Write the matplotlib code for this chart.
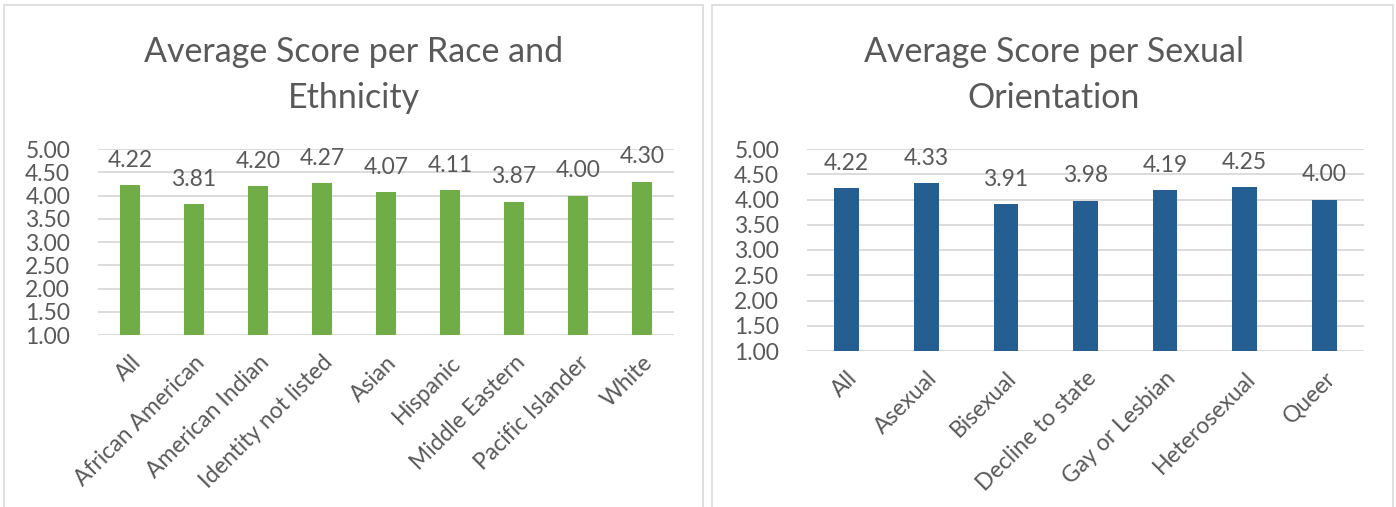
import matplotlib
matplotlib.use("Agg")
import matplotlib.pyplot as plt
from matplotlib.patches import Rectangle

plt.rcParams['font.family'] = ['Lato', 'DejaVu Sans']

race_cats = ["All", "African American", "American Indian", "Identity not listed",
             "Asian", "Hispanic", "Middle Eastern", "Pacific Islander", "White"]
race_vals = [4.22, 3.81, 4.20, 4.27, 4.07, 4.11, 3.87, 4.00, 4.30]

orient_cats = ["All", "Asexual", "Bisexual", "Decline to state",
               "Gay or Lesbian", "Heterosexual", "Queer"]
orient_vals = [4.22, 4.33, 3.91, 3.98, 4.19, 4.25, 4.00]

yticks = [1.0, 1.5, 2.0, 2.5, 3.0, 3.5, 4.0, 4.5, 5.0]

W, H = 1396, 507
fig = plt.figure(figsize=(W / 100, H / 100), dpi=100)
txt = "#595959"
grid = "#D9D9D9"
fs = 16.5

# chart boxes
for x0, x1 in [(4, 703), (712, 1393)]:
    fig.patches.append(Rectangle((x0 / W, -0.01), (x1 - x0) / W, (H - 5) / H + 0.01,
                                 transform=fig.transFigure, fill=False,
                                 edgecolor=grid, linewidth=1.2))


def draw(left, right, top, bottom, cats, vals, color, title, title_x):
    ax = fig.add_axes([left / W, 1 - bottom / H, (right - left) / W, (bottom - top) / H])
    x = range(len(cats))
    ax.bar(x, [v - 1 for v in vals], bottom=1, width=0.31, color=color, zorder=3)
    for i, v in zip(x, vals):
        ax.annotate("%.2f" % v, (i, v), xytext=(0, 13), textcoords="offset points",
                    ha="center", va="baseline", fontsize=fs, color=txt)
    ax.set_ylim(1, 5)
    ax.set_xlim(-0.5, len(cats) - 0.5)
    ax.set_yticks(yticks)
    ax.set_yticklabels(["%.2f" % t for t in yticks], fontsize=fs, color=txt)
    ax.set_xticks(list(x))
    ax.set_xticklabels(cats, rotation=45, ha="right", va="top", rotation_mode="anchor",
                       fontsize=fs, color=txt)
    ax.tick_params(axis="y", length=0, pad=20)
    ax.tick_params(axis="x", length=0, pad=12)
    ax.yaxis.grid(True, color=grid, linewidth=1.3, zorder=0)
    for s in ax.spines.values():
        s.set_visible(False)
    lines = title.split("\n")
    for k, line in enumerate(lines):
        fig.text(title_x / W, 1 - (62 + 46 * k) / H, line, ha="center", va="baseline",
                 fontsize=24.5, color=txt)
    return ax


draw(98, 674, 149, 335, race_cats, race_vals, "#70AD47",
     "Average Score per Race and\nEthnicity", 354)
draw(807, 1364, 149, 351, orient_cats, orient_vals, "#255E91",
     "Average Score per Sexual\nOrientation", 1054)

fig.savefig("out.png", dpi=100)
